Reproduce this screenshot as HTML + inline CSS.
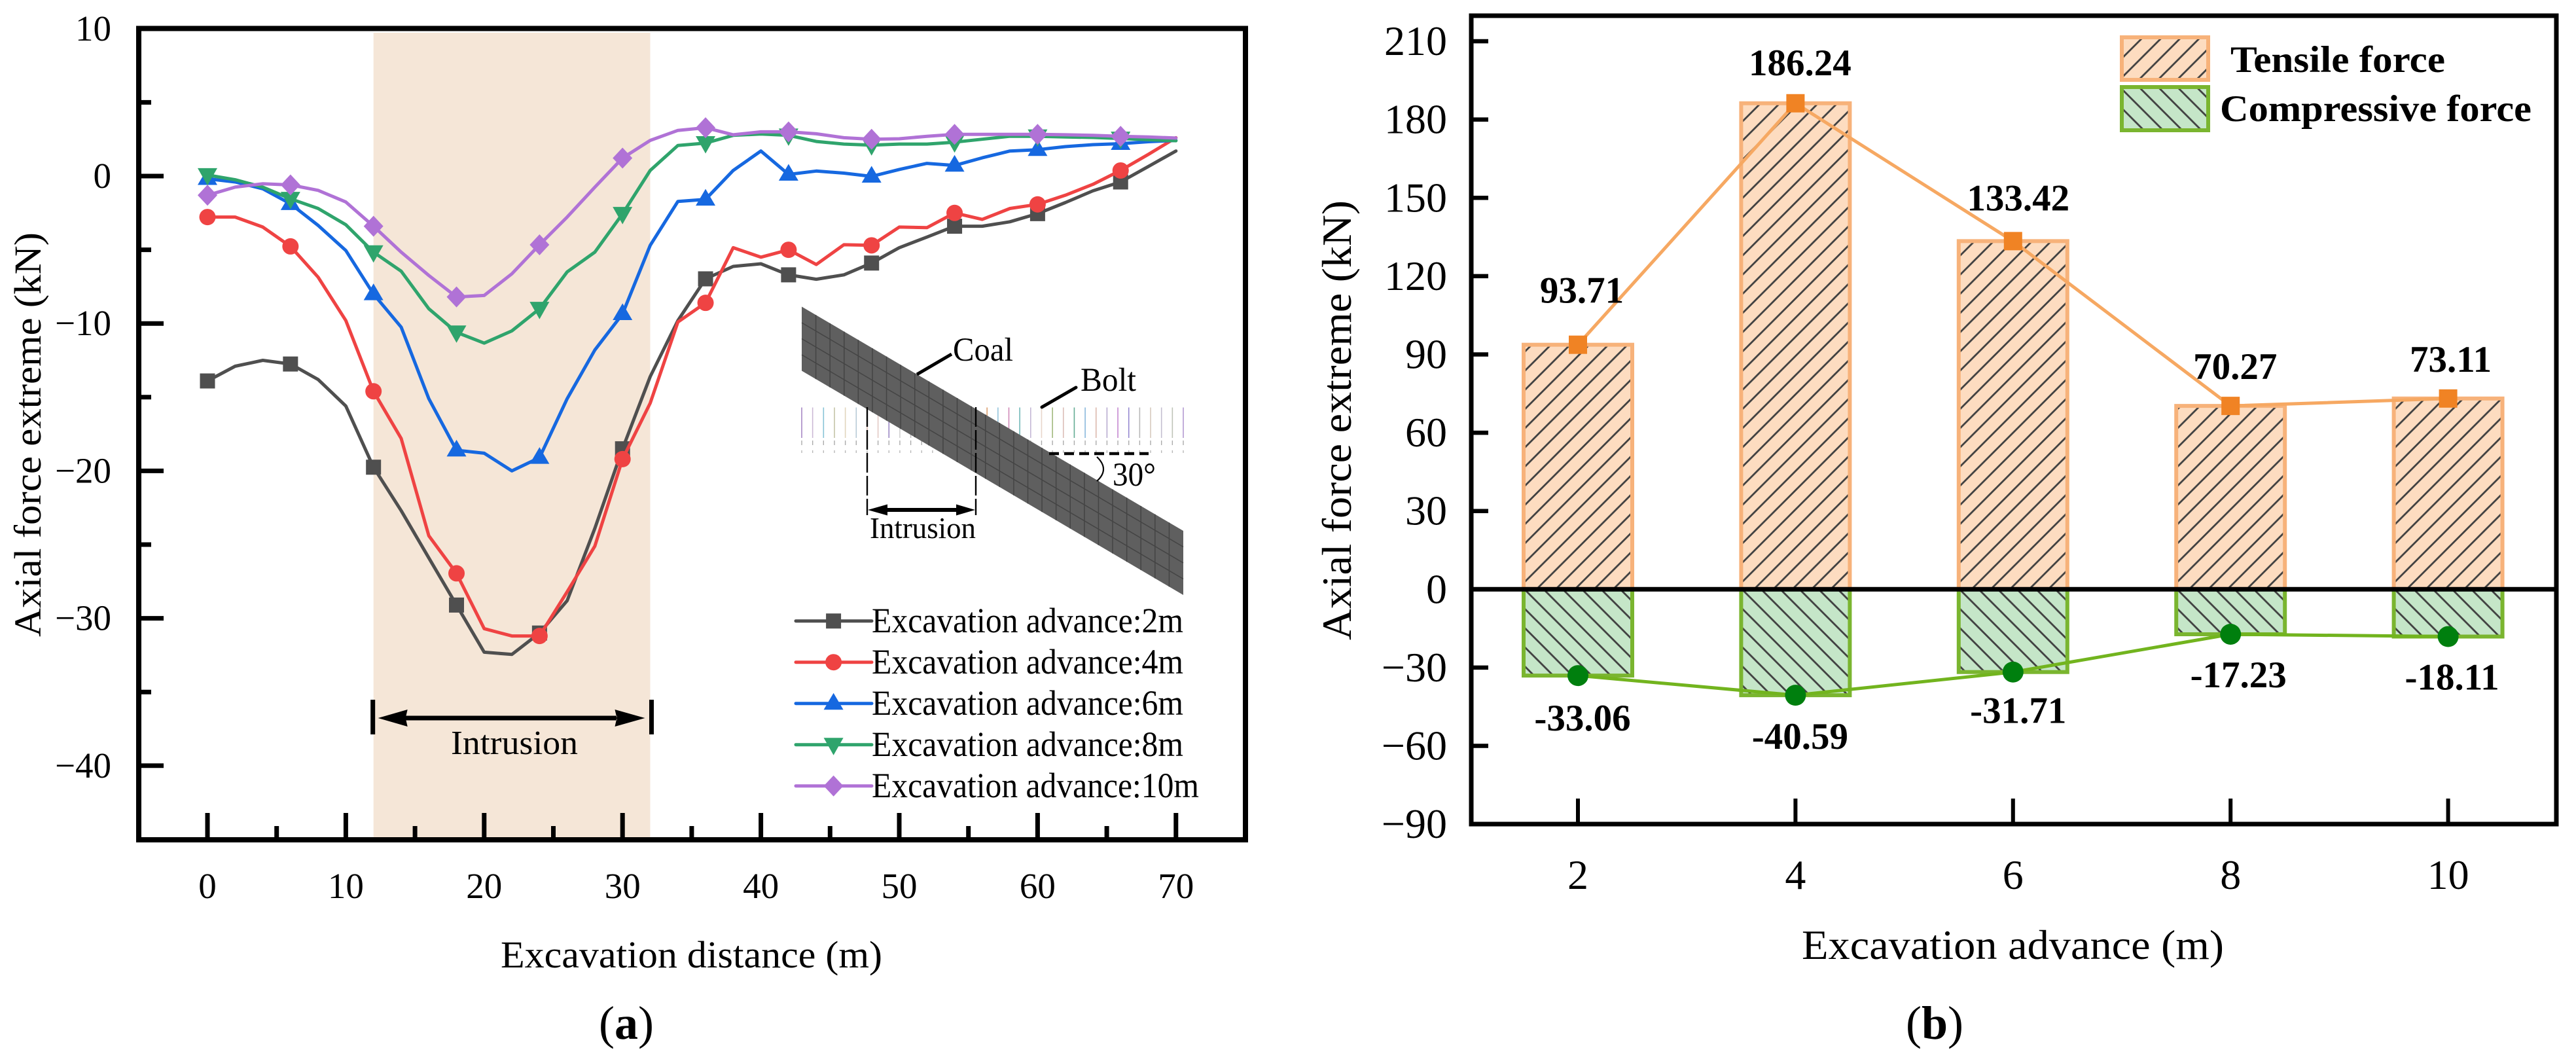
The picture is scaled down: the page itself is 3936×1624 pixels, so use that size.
<!DOCTYPE html>
<html lang="en">
<head>
<meta charset="utf-8">
<title>Axial force extreme charts</title>
<style>
html,body{margin:0;padding:0;background:#fff;width:3936px;height:1624px;overflow:hidden}
svg{display:block}
text{font-family:"Liberation Serif",serif;fill:#000}
</style>
</head>
<body>
<svg id="figure" xmlns="http://www.w3.org/2000/svg" width="3936" height="1624" viewBox="0 0 3936 1624">
<defs id="defs"></defs>
<g id="panel-a"></g>
<g id="panel-b"></g>
</svg>
<script>
// ===== Panel (a) data =====
const distances = [0,2,4,6,8,10,12,14,16,18,20,22,24,26,28,30,32,34,36,38,40,42,44,46,48,50,52,54,56,58,60,62,64,66,68,70];
const advance2m = [-13.9,-12.9,-12.5,-12.75,-13.8,-15.6,-19.75,-22.7,-25.9,-29.1,-32.3,-32.45,-31,-28.8,-23.9,-18.5,-13.6,-9.8,-6.97,-6.13,-5.95,-6.7,-7,-6.7,-5.9,-4.86,-4.14,-3.4,-3.4,-3.1,-2.55,-1.8,-1,-0.4,0.65,1.7];
const advance4m = [-2.78,-2.78,-3.46,-4.77,-6.86,-9.8,-14.6,-17.8,-24.4,-26.95,-30.7,-31.2,-31.2,-28.2,-25.1,-19.2,-15.4,-9.9,-8.6,-4.86,-5.5,-5,-6,-4.66,-4.7,-3.46,-3.5,-2.5,-2.94,-2.2,-1.92,-1.3,-0.56,0.38,1.47,2.6];
const advance6m = [-0.18,-0.4,-0.86,-1.88,-3.35,-5.05,-8,-10.25,-15.1,-18.6,-18.8,-20,-19.1,-15.1,-11.8,-9.35,-4.7,-1.72,-1.58,0.38,1.7,0.11,0.34,0.2,-0.02,0.45,0.86,0.72,1.24,1.7,1.79,2,2.13,2.2,2.33,2.42];
const advance8m = [0.07,-0.25,-0.75,-1.54,-2.2,-3.3,-5.16,-6.45,-9,-10.6,-11.33,-10.5,-9,-6.5,-5.16,-2.56,0.38,2.08,2.24,2.76,2.85,2.76,2.35,2.17,2.1,2.17,2.17,2.3,2.5,2.7,2.7,2.65,2.62,2.55,2.47,2.4];
const advance10m = [-1.3,-0.75,-0.52,-0.6,-0.97,-1.76,-3.4,-5.16,-6.74,-8.2,-8.1,-6.63,-4.66,-2.78,-0.75,1.22,2.42,3.1,3.28,2.8,3,3,2.87,2.6,2.5,2.53,2.7,2.83,2.83,2.83,2.83,2.8,2.76,2.7,2.65,2.58];
const seriesNamesA = ['Excavation advance:2m','Excavation advance:4m','Excavation advance:6m','Excavation advance:8m','Excavation advance:10m'];
const xMajorA = [0,10,20,30,40,50,60,70];
const xMinorA = [5,15,25,35,45,55,65];
const yMajorA = [10,0,-10,-20,-30,-40];
const yMinorA = [5,-5,-15,-25,-35];
const intrusionRange = [12,32];

// ===== Panel (b) data =====
const advances = [2,4,6,8,10];
const tensile = [93.71,186.24,133.42,70.27,73.11];
const compressive = [-33.06,-40.59,-31.71,-17.23,-18.11];
const yTicksB = [210,180,150,120,90,60,30,0,-30,-60,-90];

// ===== Layout =====
const NS = 'http://www.w3.org/2000/svg';
const defs = document.getElementById('defs');
const A = document.getElementById('panel-a');
const B = document.getElementById('panel-b');
function mk(parent, tag, attrs, txt){
  const el = document.createElementNS(NS, tag);
  for (const k in attrs) el.setAttribute(k, attrs[k]);
  if (txt !== undefined) el.textContent = txt;
  parent.appendChild(el);
  return el;
}
function fmt(v){ return v < 0 ? '\u2212' + Math.abs(v) : String(v); }

// axis functions
const xA = v => 317 + 21.14 * v;
const yA = v => 269 - 22.52 * v;
const xB = v => 2411 + 166.2 * (v - 2);
const yB = v => 900.3 - 3.987 * v;

// ----- Markers -----
function markerPath(kind, x, y){
  if (kind === 'up') return `M${x-15},${y+9.5}L${x},${y-16}L${x+15},${y+9.5}Z`;
  if (kind === 'down') return `M${x-15},${y-10.5}L${x+15},${y-10.5}L${x},${y+16}Z`;
  if (kind === 'diamond') return `M${x},${y-16}L${x+15},${y}L${x},${y+16}L${x-15},${y}Z`;
  if (kind === 'square') return `M${x-11.5},${y-11.5}h23v23h-23Z`;
  return `M${x-12.5},${y}a12.5,12.5 0 1,0 25,0a12.5,12.5 0 1,0 -25,0Z`;
}
const seriesValuesA = [advance2m, advance4m, advance6m, advance8m, advance10m];
const seriesColorsA = ['#4f4f4f','#ef4343','#1668e0','#2fa46c','#b072d6'];
const seriesKindsA = ['square','circle','up','down','diamond'];
const seriesKeysA = ['2m','4m','6m','8m','10m'];

// ===== Draw panel (a) =====
let el;
el = mk(A,'rect',{x:xA(intrusionRange[0]),y:50,width:xA(intrusionRange[1])-xA(intrusionRange[0]),height:1232,fill:'#f5e6d7'});



xMajorA.forEach(v => {
  const t = mk(A,'line',{x1:xA(v),x2:xA(v),y1:1283,y2:1242,stroke:'#000','stroke-width':7});
  
  
  const l = mk(A,'text',{x:xA(v),y:1372,'text-anchor':'middle','font-size':55},fmt(v));
  
  
});
xMinorA.forEach(v => {
  const t = mk(A,'line',{x1:xA(v),x2:xA(v),y1:1283,y2:1262,stroke:'#000','stroke-width':7});
  
  
});
yMajorA.forEach(v => {
  const t = mk(A,'line',{x1:212,x2:250,y1:yA(v),y2:yA(v),stroke:'#000','stroke-width':7});
  
  
  const l = mk(A,'text',{x:170,y:yA(v)+18,'text-anchor':'end','font-size':55},fmt(v));
  
  
});
yMinorA.forEach(v => {
  const t = mk(A,'line',{x1:212,x2:231,y1:yA(v),y2:yA(v),stroke:'#000','stroke-width':7});
  
  
});

seriesValuesA.forEach((vals, s) => {
  const g = mk(A,'g',{});
  
  
  const pts = vals.map((v,i) => xA(distances[i]).toFixed(1) + ',' + yA(v).toFixed(1)).join(' ');
  const line = mk(g,'polyline',{points:pts,fill:'none',stroke:seriesColorsA[s],'stroke-width':5,'stroke-linejoin':'round','stroke-linecap':'round'});
  
  
  vals.forEach((v,i) => {
    if (i % 3 !== 0 || i > 33) return;
    const m = mk(g,'path',{d:markerPath(seriesKindsA[s], xA(distances[i]), yA(v)),fill:seriesColorsA[s]});
    
    
  });
});

el = mk(A,'rect',{x:212,y:43.5,width:1691,height:1239.5,fill:'none',stroke:'#000','stroke-width':8});



// Intrusion arrow
const ax0 = xA(intrusionRange[0]), ax1 = xA(intrusionRange[1]);
el = mk(A,'line',{x1:ax0-1,x2:ax0-1,y1:1069,y2:1122,stroke:'#000','stroke-width':7});


el = mk(A,'line',{x1:ax1+2,x2:ax1+2,y1:1069,y2:1122,stroke:'#000','stroke-width':7});


el = mk(A,'path',{d:`M${ax0+7},1097L${ax0+52},1084L${ax0+49},1097L${ax0+52},1110Z M${ax1-8},1097L${ax1-54},1084L${ax1-51},1097L${ax1-54},1110Z M${ax0+49},1093.5H${ax1-51}V1100.5H${ax0+49}Z`,fill:'#000'});


el = mk(A,'text',{x:689,y:1152,'font-size':52,textLength:194,lengthAdjust:'spacingAndGlyphs'},'Intrusion');



// Axis titles (a)
el = mk(A,'text',{x:765,y:1478,'font-size':58,textLength:583,lengthAdjust:'spacingAndGlyphs'},'Excavation distance (m)');


el = mk(A,'text',{transform:'translate(62,973) rotate(-90)','font-size':58,textLength:618,lengthAdjust:'spacingAndGlyphs'},'Axial force extreme (kN)');



// Panel caption (a)
el = mk(A,'text',{x:915,y:1587,'font-size':72});


mk(el,'tspan',{},'(');
mk(el,'tspan',{'font-weight':'bold'},'a');
mk(el,'tspan',{},')');

// Legend (a)
seriesNamesA.forEach((name, s) => {
  const cy = 948.7 + 63 * s;
  const g = mk(A,'g',{});
  
  
  const ln = mk(g,'line',{x1:1216,x2:1332,y1:cy,y2:cy,stroke:seriesColorsA[s],'stroke-width':5,'stroke-linecap':'round'});
  
  
  const mkr = mk(g,'path',{d:markerPath(seriesKindsA[s],1273.6,cy),fill:seriesColorsA[s]});
  
  
  const tx = mk(g,'text',{x:1332,y:cy+17.5,'font-size':54,textLength:s === 4 ? 500 : 476,lengthAdjust:'spacingAndGlyphs'},name);
  
  
});

// Inset (a)
const inset = mk(A,'g',{});


const boltColors = ['#8a5fb0','#b9a2c8','#5fb0c8','#b0b08a','#d8c8a8','#9fb8c8','#c8a090','#d8b8b0','#7a60b0','#c0c0c0','#a8a8a8','#c8a0b8','#9a70c0','#a090c8','#c060b0','#90b070','#90a0c0','#d08040','#70b0d0','#c060a0','#40a0a0','#b0a0c8','#e0c8b8','#80a050','#d0a8a0','#309070','#60a0d0','#d0a090','#a090c0','#b060c0','#7060c0','#a0a0a0','#c8b8a8','#b0a8c0','#a8b0a0','#9878c0'];
const IL = 1225, IR = 1808, IT = 468.5, IH = 98, slope = (811 - 468.5) / (1808 - 1225);
boltColors.forEach((c, i) => {
  const x = IL + i * (IR - IL) / 35;
  const b1 = mk(inset,'line',{x1:x,x2:x,y1:622.5,y2:669,stroke:c,'stroke-width':1.6,'stroke-opacity':0.75});
  
  
  const b2 = mk(inset,'line',{x1:x,x2:x,y1:673,y2:680,stroke:'#888','stroke-width':1.4,'stroke-opacity':0.7});
  
  
  const b3 = mk(inset,'line',{x1:x,x2:x,y1:688,y2:692,stroke:'#888','stroke-width':1.4,'stroke-opacity':0.6});
  
  
});
el = mk(inset,'polygon',{points:`${IL},${IT} ${IR},${IT+(IR-IL)*slope} ${IR},${IT+IH+(IR-IL)*slope} ${IL},${IT+IH}`,fill:'#5f5f5f'});


for (let i = 1; i < 27; i++){
  const x = IL + i * (IR - IL) / 27;
  const g1 = mk(inset,'line',{x1:x,x2:x,y1:IT+(x-IL)*slope,y2:IT+IH+(x-IL)*slope,stroke:'#444','stroke-width':1.5});
  
  
}
for (let j = 1; j < 4; j++){
  const g2 = mk(inset,'line',{x1:IL,x2:IR,y1:IT+j*IH/4,y2:IT+j*IH/4+(IR-IL)*slope,stroke:'#444','stroke-width':1.5});
  
  
}
[1325,1491].forEach(x => {
  const d = mk(inset,'line',{x1:x,x2:x,y1:622,y2:787,stroke:'#000','stroke-width':2.4,'stroke-dasharray':'30 5'});
  
  
});
el = mk(inset,'path',{d:'M1326,779L1356,770.5L1356,776H1461V770.5L1490,779L1461,787.5V782H1356V787.5Z',fill:'#000'});


el = mk(inset,'text',{x:1329,y:822,'font-size':46,textLength:162,lengthAdjust:'spacingAndGlyphs'},'Intrusion');


el = mk(inset,'line',{x1:1401,y1:572,x2:1454,y2:541,stroke:'#000','stroke-width':5});


el = mk(inset,'text',{x:1456,y:551,'font-size':51,textLength:92,lengthAdjust:'spacingAndGlyphs'},'Coal');


el = mk(inset,'line',{x1:1592,y1:622,x2:1644,y2:592,stroke:'#000','stroke-width':5,'stroke-linecap':'round'});


el = mk(inset,'text',{x:1651,y:597,'font-size':51,textLength:85,lengthAdjust:'spacingAndGlyphs'},'Bolt');


el = mk(inset,'line',{x1:1603,y1:693,x2:1755,y2:693,stroke:'#000','stroke-width':4.5,'stroke-dasharray':'15 8'});


el = mk(inset,'path',{d:'M1676,698Q1696,717 1676,735',fill:'none',stroke:'#000','stroke-width':2.2});


el = mk(inset,'text',{x:1700,y:742,'font-size':51,textLength:66,lengthAdjust:'spacingAndGlyphs'},'30\u00B0');



// ===== Draw panel (b) =====
const HP = 29.3;
function hatch(id, up, ox, oy, fillCol){
  const p = mk(defs,'pattern',{id:id,patternUnits:'userSpaceOnUse',width:HP,height:HP,patternTransform:`translate(${ox},${oy})`});
  mk(p,'rect',{width:HP,height:HP,fill:fillCol});
  const d = up ? `M-3,3L3,-3M0,${HP}L${HP},0M${HP-3},${HP+3}L${HP+3},${HP-3}`
               : `M-3,${HP-3}L3,${HP+3}M0,0L${HP},${HP}M${HP-3},-3L${HP+3},3`;
  mk(p,'path',{d:d,stroke:'#404040','stroke-width':2.8,fill:'none'});
}
const orangeBorder = '#f7b27a', greenBorder = '#7ab52f';

advances.forEach((a, i) => {
  const cx = xB(a), bx = cx - 83, bw = 166;
  const upId = 'hatch-up-' + i, dnId = 'hatch-down-' + i;
  hatch(upId, true, bx + 20, 900, '#fddcc0');
  hatch(dnId, false, bx + 3, 902, '#c5e6c8');
  const t = yB(tensile[i]), c = yB(compressive[i]), z = yB(0);
  const r1 = mk(B,'rect',{x:bx,y:t,width:bw,height:z-t,fill:`url(#${upId})`,stroke:orangeBorder,'stroke-width':6});
  
  
  const r2 = mk(B,'rect',{x:bx,y:z,width:bw,height:c-z,fill:`url(#${dnId})`,stroke:greenBorder,'stroke-width':6});
  
  
});

el = mk(B,'line',{x1:2246,x2:3906,y1:yB(0),y2:yB(0),stroke:'#000','stroke-width':7});



el = mk(B,'polyline',{points:advances.map((a,i)=>xB(a)+','+yB(tensile[i])).join(' '),fill:'none',stroke:'#f6a862','stroke-width':5});


el = mk(B,'polyline',{points:advances.map((a,i)=>xB(a)+','+yB(compressive[i])).join(' '),fill:'none',stroke:'#72b41e','stroke-width':5});



const tensileLabelNudgeX = [6,7,8,7,4];
const tensileLabelNudgeY = [-64,-43,-47,-41,-41];
const compressiveLabelNudgeX = [7,7,8,12,6];
const compressiveLabelNudgeY = [84,82,78,81,81];
advances.forEach((a, i) => {
  const cx = xB(a);
  const m1 = mk(B,'rect',{x:cx-14,y:yB(tensile[i])-14,width:28,height:28,fill:'#f08324'});
  
  
  const m2 = mk(B,'circle',{cx:cx,cy:yB(compressive[i]),r:16,fill:'#007f0e'});
  
  
  const l1 = mk(B,'text',{x:cx+tensileLabelNudgeX[i],y:yB(tensile[i])+tensileLabelNudgeY[i],'text-anchor':'middle','font-size':57,'font-weight':'bold'},tensile[i].toFixed(2));
  
  
  const l2 = mk(B,'text',{x:cx+compressiveLabelNudgeX[i],y:yB(compressive[i])+compressiveLabelNudgeY[i],'text-anchor':'middle','font-size':57,'font-weight':'bold'},compressive[i].toFixed(2));
  
  
  const tk = mk(B,'line',{x1:cx,x2:cx,y1:1259,y2:1220,stroke:'#000','stroke-width':6});
  
  
  const tl = mk(B,'text',{x:cx,y:1358,'text-anchor':'middle','font-size':64},String(a));
  
  
});

yTicksB.forEach(v => {
  if (v !== 0 && v !== -90){
    const t = mk(B,'line',{x1:2246,x2:2274,y1:yB(v),y2:yB(v),stroke:'#000','stroke-width':6.5});
    
    
  }
  const l = mk(B,'text',{x:2211,y:yB(v)+21,'text-anchor':'end','font-size':64},fmt(v));
  
  
});

el = mk(B,'rect',{x:2248,y:24,width:1658,height:1235,fill:'none',stroke:'#000','stroke-width':7});



el = mk(B,'text',{x:2753,y:1465,'font-size':63,textLength:645,lengthAdjust:'spacingAndGlyphs'},'Excavation advance (m)');


el = mk(B,'text',{transform:'translate(2064,978) rotate(-90)','font-size':64,textLength:672,lengthAdjust:'spacingAndGlyphs'},'Axial force extreme (kN)');



el = mk(B,'text',{x:2912,y:1587,'font-size':72});


mk(el,'tspan',{},'(');
mk(el,'tspan',{'font-weight':'bold'},'b');
mk(el,'tspan',{},')');

// Legend (b)
hatch('legend-up', true, 3242, 60, '#fddcc0');
hatch('legend-down', false, 3242, 136, '#c5e6c8');
el = mk(B,'rect',{x:3242,y:57,width:132,height:65,fill:'url(#legend-up)',stroke:orangeBorder,'stroke-width':6});


el = mk(B,'rect',{x:3242,y:133,width:132,height:66,fill:'url(#legend-down)',stroke:greenBorder,'stroke-width':6});


el = mk(B,'text',{x:3408,y:110,'font-size':57,'font-weight':'bold',textLength:328,lengthAdjust:'spacingAndGlyphs'},'Tensile force');


el = mk(B,'text',{x:3392,y:185,'font-size':57,'font-weight':'bold',textLength:476,lengthAdjust:'spacingAndGlyphs'},'Compressive force');


</script>
</body>
</html>
